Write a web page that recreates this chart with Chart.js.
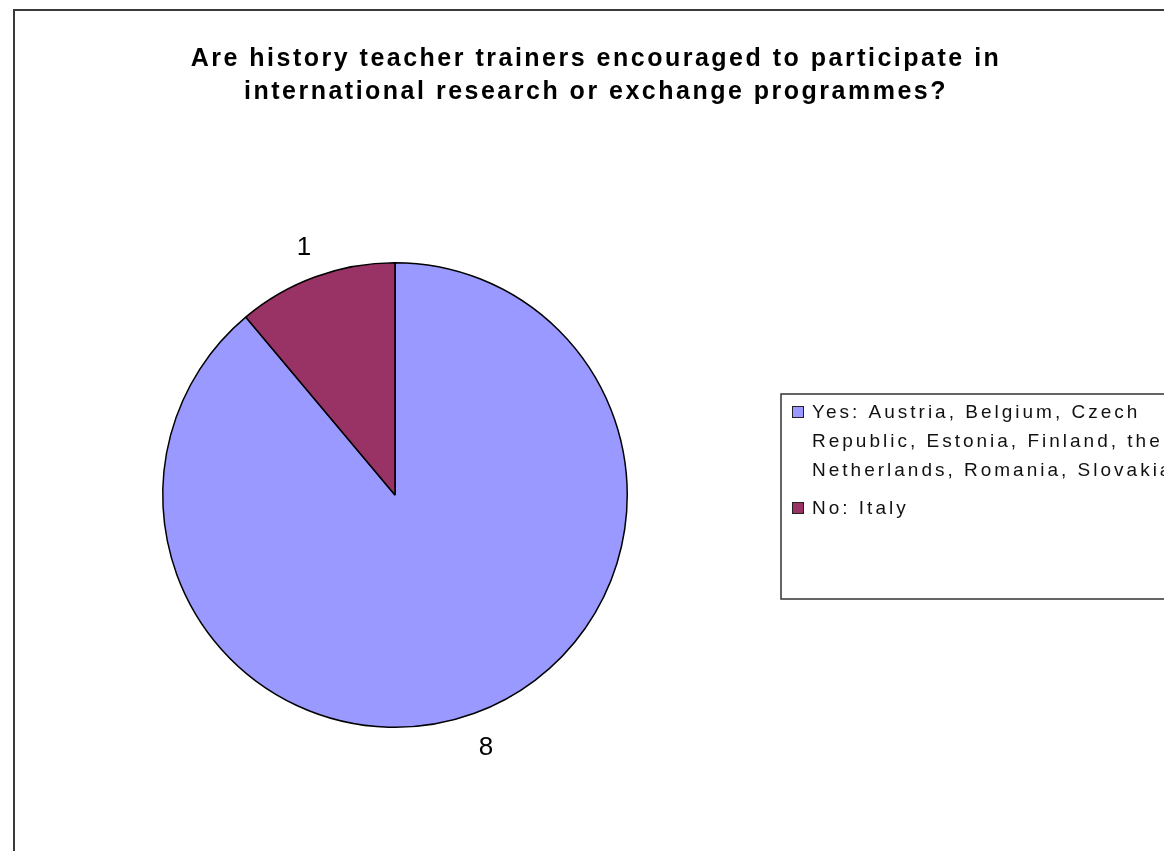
<!DOCTYPE html>
<html>
<head>
<meta charset="utf-8">
<script src="https://cdn.jsdelivr.net/npm/chart.js@4/dist/chart.umd.min.js"></script>
<style>
  html, body { margin: 0; padding: 0; background: #fff; overflow: hidden; }
</style>
</head>
<body>
<canvas id="pieChart" width="1164" height="851"></canvas>
<script>
const titleLines = ['Are history teacher trainers encouraged to participate in', 'international research or exchange programmes?'];
const categories = ['Yes: Austria, Belgium, Czech Republic, Estonia, Finland, the Netherlands, Romania, Slovakia', 'No: Italy'];
const legendLines = [
    ['Yes: Austria, Belgium, Czech', 'Republic, Estonia, Finland, the', 'Netherlands, Romania, Slovakia'],
    ['No: Italy']
];
const counts = [8, 1];
const sliceColors = ['#9999FF', '#993366'];

// frame, title, value labels and the boxed legend, drawn like the old Excel chart
const excelLook = {
    id: 'excelLook',
    beforeDraw(chart) {
        const ctx = chart.ctx;
        ctx.save();
        ctx.fillStyle = '#fff';
        ctx.fillRect(0, 0, chart.width, chart.height);
        ctx.strokeStyle = '#3a3a3a';
        ctx.lineWidth = 2;
        ctx.strokeRect(14, 10, chart.width, chart.height);

        ctx.fillStyle = '#000';
        ctx.font = 'bold 25px "Liberation Sans", Arial, sans-serif';
        ctx.letterSpacing = '2.5px';
        ctx.textAlign = 'center';
        titleLines.forEach((line, i) => ctx.fillText(line, 596, 66 + i * 33));
        ctx.restore();
    },
    afterDatasetsDraw(chart) {
        const ctx = chart.ctx;
        const meta = chart.getDatasetMeta(0);
        ctx.save();
        ctx.fillStyle = '#000';
        ctx.font = '26px "Liberation Sans", Arial, sans-serif';
        ctx.textAlign = 'center';
        ctx.textBaseline = 'middle';
        meta.data.forEach((arc, i) => {
            const p = arc.getProps(['x', 'y', 'startAngle', 'endAngle', 'outerRadius'], true);
            const mid = (p.startAngle + p.endAngle) / 2;
            const r = p.outerRadius + 34;
            ctx.fillText(String(counts[i]), p.x + Math.cos(mid) * r, p.y + Math.sin(mid) * r + 3);
        });

        // legend box
        ctx.strokeStyle = '#333';
        ctx.lineWidth = 1.5;
        ctx.strokeRect(781, 394, 500, 205);
        ctx.font = '19px "Liberation Sans", Arial, sans-serif';
        ctx.letterSpacing = '3px';
        ctx.textAlign = 'left';
        ctx.textBaseline = 'alphabetic';
        const colors = chart.data.datasets[0].backgroundColor;
        let y = 418;
        legendLines.forEach((lines, i) => {
            ctx.fillStyle = colors[i];
            ctx.fillRect(792, y - 12, 12, 12);
            ctx.strokeStyle = '#222';
            ctx.lineWidth = 1;
            ctx.strokeRect(792.5, y - 11.5, 11, 11);
            ctx.fillStyle = '#111';
            lines.forEach((t, j) => ctx.fillText(t, 812, y + j * 29));
            y += (lines.length - 1) * 29 + 38;
        });
        ctx.restore();
    }
};

new Chart(document.getElementById('pieChart'), {
    type: 'pie',
    data: {
        labels: categories,
        datasets: [{
            data: counts,
            backgroundColor: sliceColors,
            borderColor: '#000',
            borderWidth: 1.5
        }]
    },
    options: {
        responsive: false,
        animation: false,
        layout: { padding: { left: 162, right: 536, top: 262, bottom: 123 } },
        plugins: {
            legend: { display: false },
            title: { display: false },
            tooltip: { enabled: false }
        }
    },
    plugins: [excelLook]
});
</script>
</body>
</html>
